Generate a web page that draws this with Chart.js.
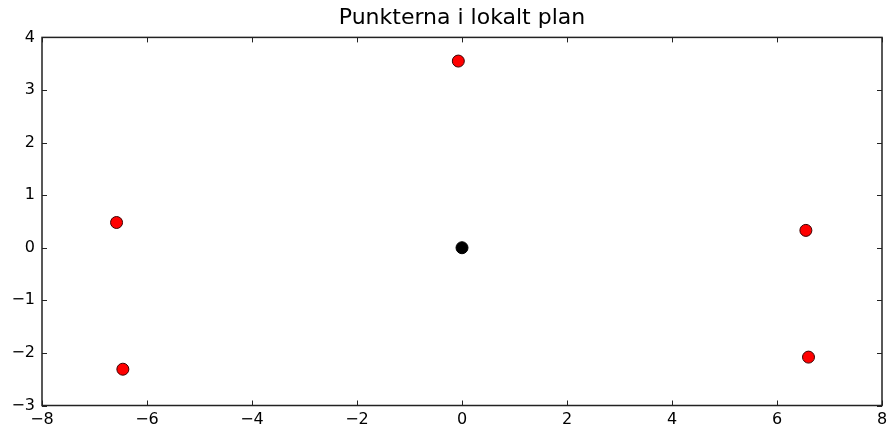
<!DOCTYPE html>
<html>
<head>
<meta charset="utf-8">
<script src="https://cdn.jsdelivr.net/npm/chart.js@4/dist/chart.umd.min.js"></script>
<style>
  html, body { margin: 0; padding: 0; background: #fff; }
  #wrap { width: 889px; height: 430px; }
</style>
</head>
<body>
<div id="wrap"><canvas id="chart"></canvas></div>
<script>
// Punkter (röda) och origo (svart)
const redX = [-6.58, -6.46, -0.07, 6.55, 6.60];
const redY = [0.48, -2.31, 3.55, 0.33, -2.08];
const originX = [0];
const originY = [0];
const xTicks = [-8, -6, -4, -2, 0, 2, 4, 6, 8];
const yTicks = [-3, -2, -1, 0, 1, 2, 3, 4];

const minus = v => String(v).replace('-', '\u2212');

// ram + ticks inåt på alla fyra sidor (matplotlib-stil)
const frame = {
  id: 'frame',
  afterDatasetsDraw(chart) {
    const { ctx, chartArea: a, scales: { x, y } } = chart;
    ctx.save();
    ctx.strokeStyle = '#222';
    ctx.lineWidth = 1;
    ctx.beginPath();
    xTicks.forEach(t => {
      const px = Math.round(x.getPixelForValue(t)) + 0.5;
      ctx.moveTo(px, a.top); ctx.lineTo(px, a.top + 5);
      ctx.moveTo(px, a.bottom); ctx.lineTo(px, a.bottom - 5);
    });
    yTicks.forEach(t => {
      const py = Math.round(y.getPixelForValue(t)) + 0.5;
      ctx.moveTo(a.left, py); ctx.lineTo(a.left + 5, py);
      ctx.moveTo(a.right, py); ctx.lineTo(a.right - 5, py);
    });
    ctx.stroke();
    ctx.lineWidth = 1.5;
    ctx.strokeRect(a.left, a.top, a.right - a.left, a.bottom - a.top);
    ctx.restore();
  }
};

new Chart(document.getElementById('chart'), {
  type: 'scatter',
  data: {
    datasets: [
      {
        data: redX.map((v, i) => ({ x: v, y: redY[i] })),
        backgroundColor: '#ff0000',
        borderColor: '#3a0000',
        borderWidth: 1,
        pointRadius: 6,
        pointHoverRadius: 6
      },
      {
        data: originX.map((v, i) => ({ x: v, y: originY[i] })),
        backgroundColor: '#000000',
        borderColor: '#000000',
        borderWidth: 1,
        pointRadius: 6,
        pointHoverRadius: 6
      }
    ]
  },
  options: {
    responsive: true,
    maintainAspectRatio: false,
    animation: false,
    layout: { padding: { left: 0, right: 7, top: 0, bottom: 0 } },
    plugins: {
      legend: { display: false },
      tooltip: { enabled: false },
      title: {
        display: true,
        fullSize: false,
        text: 'Punkterna i lokalt plan',
        color: '#000',
        font: { family: 'DejaVu Sans', size: 22, weight: 'normal' },
        padding: { top: 5, bottom: 6 }
      }
    },
    scales: {
      x: {
        type: 'linear',
        min: -8, max: 8,
        afterBuildTicks: s => { s.ticks = xTicks.map(v => ({ value: v })); },
        afterFit: s => { s.height = 24.5; s.paddingLeft = 0; s.paddingRight = 0; },
        grid: { display: false, drawTicks: false },
        border: { display: false },
        ticks: {
          color: '#000',
          padding: 5,
          maxRotation: 0,
          font: { family: 'DejaVu Sans', size: 16 },
          callback: v => minus(v)
        }
      },
      y: {
        type: 'linear',
        min: -3, max: 4,
        afterBuildTicks: s => { s.ticks = yTicks.map(v => ({ value: v })); },
        afterFit: s => { s.width = 42; s.paddingTop = 0; s.paddingBottom = 0; },
        grid: { display: false, drawTicks: false },
        border: { display: false },
        ticks: {
          color: '#000',
          padding: 7,
          font: { family: 'DejaVu Sans', size: 16 },
          callback: v => minus(v)
        }
      }
    }
  },
  plugins: [frame]
});
</script>
</body>
</html>
